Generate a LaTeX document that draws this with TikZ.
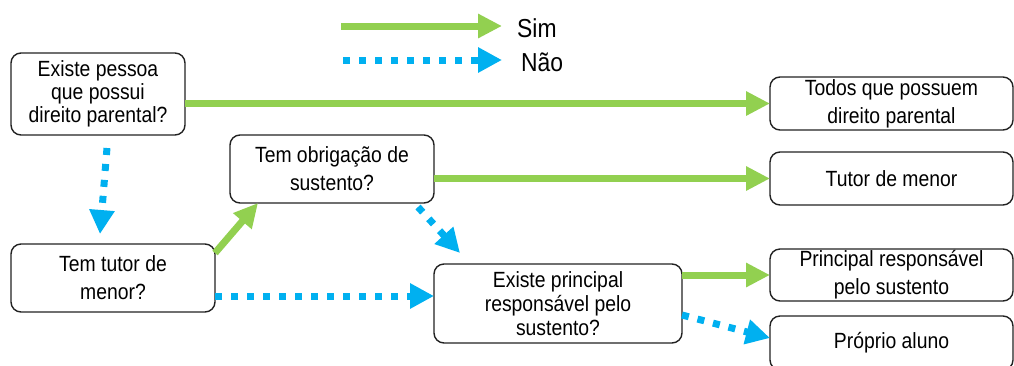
\documentclass[tikz,border=0pt]{standalone}
\usepackage{fontspec}
\setmainfont{Liberation Sans}[FakeStretch=0.88]
\usetikzlibrary{arrows.meta,calc}
\definecolor{simgreen}{HTML}{92D050}
\definecolor{naoblue}{HTML}{00B0F0}
\definecolor{boxline}{HTML}{222222}
\begin{document}
\begin{tikzpicture}[x=1pt,y=-1pt,
  box/.style={draw=boxline,line width=1.4pt,rounded corners=10pt,inner sep=0pt,outer sep=0pt,align=center,
    font=\fontsize{22}{28}\selectfont},
  yes/.style={draw=simgreen,line width=7pt,-{Triangle[length=24pt,width=23pt]},simgreen},
  no/.style={draw=naoblue,line width=7pt,dash pattern=on 7pt off 9pt,-{Triangle[length=24pt,width=24pt]},naoblue},
  legtxt/.style={font=\fontsize{26}{30}\selectfont,inner sep=0pt,anchor=base west}]
\useasboundingbox (0,0) rectangle (1014,365);
\clip (0,0) rectangle (1014,365);
% legend
\coordinate (ls1) at (341,26);
\coordinate (ls2) at (502,26);
\coordinate (ln1) at (343,60);
\coordinate (ln2) at (502,60);
\draw[yes] (ls1) -- (ls2);
\draw[no] (ln1) -- (ln2);
\node[legtxt] (sim) at (517,37) {Sim};
\node[legtxt] (nao) at (521,71) {Não};
% boxes
\node[box,minimum width=174pt,minimum height=82pt,font=\fontsize{22}{23}\selectfont] (A) at (98,94)
  {Existe pessoa\\que possui\\direito parental?};
\node[box,minimum width=204pt,minimum height=68pt] (B) at (332,169) {Tem obrigação de\\sustento?};
\node[box,minimum width=204pt,minimum height=68pt] (C) at (113,278) {Tem tutor de\\menor?};
\node[box,minimum width=248pt,minimum height=79pt,font=\fontsize{22}{24}\selectfont] (D) at (558,303.5)
  {Existe principal\\responsável pelo\\sustento?};
\node[box,minimum width=243pt,minimum height=53pt] (E) at (891.5,103.5) {Todos que possuem\\direito parental};
\node[box,minimum width=243pt,minimum height=53pt] (F) at (891.5,178.5) {Tutor de menor};
\node[box,minimum width=243pt,minimum height=52pt] (G) at (891.5,275) {Principal responsável\\pelo sustento};
\node[box,minimum width=243pt,minimum height=54pt] (H) at (891.5,343) {Próprio aluno};
% connectors
\draw[yes] (A.east |- E.west) -- (E.west);
\draw[yes] (B.east |- F.west) -- (F.west);
\draw[yes] (D.east |- G.west) -- (G.west);
\draw[yes] ([yshift=-9pt]C.north east) -- ([xshift=28pt]B.south west);
\draw[no] ([xshift=9pt,yshift=-13pt]A.south) -- ([xshift=-13pt,yshift=10pt]C.north);
\draw[no] ([yshift=-18pt]C.east) -- ([yshift=-18pt]C.east -| D.west);
\draw[no] ([xshift=-16pt,yshift=-4pt]B.south east) -- ([xshift=26pt,yshift=11pt]D.north west);
\draw[no] ([yshift=-11.5pt]D.east) -- ([yshift=5pt]H.west);
\end{tikzpicture}
\end{document}
